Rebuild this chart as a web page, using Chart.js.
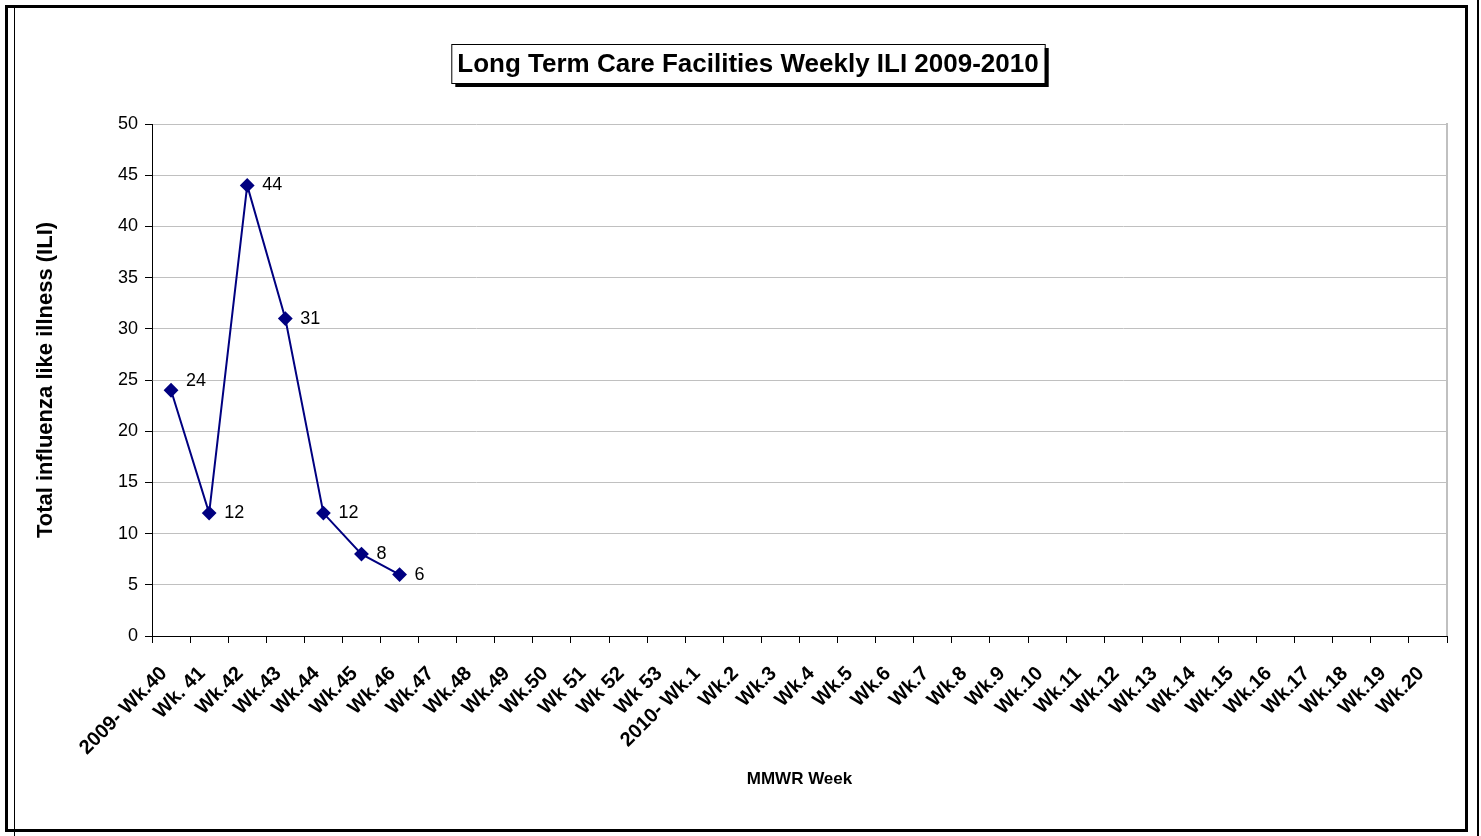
<!DOCTYPE html>
<html>
<head>
    <title>Long Term Care Facilities Weekly ILI 2009-2010</title>
    <script src="https://cdn.jsdelivr.net/npm/chart.js@4.4.1/dist/chart.umd.min.js"></script>
    <style>
        body {
            margin: 0;
            padding: 0;
            background: #ffffff;
            overflow: hidden;
        }
        #wrap {
            position: relative;
            width: 1481px;
            height: 836px;
        }
        #iliChart {
            position: absolute;
            left: 0;
            top: 0;
        }
        .frame {
            position: absolute;
            left: 5px;
            top: 5px;
            width: 1463px;
            height: 827px;
            box-sizing: border-box;
            border: 3px solid #000;
            pointer-events: none;
        }
        .rule {
            position: absolute;
            background: #000;
            pointer-events: none;
        }
    </style>
</head>
<body>
    <div id="wrap">
        <canvas id="iliChart" width="1481" height="836"></canvas>
        <div class="frame"></div>
        <div class="rule" style="left:14px;top:8px;width:1px;height:828px;"></div>
        <div class="rule" style="left:1477px;top:0;width:2px;height:836px;"></div>
    </div>

    <script>
        // Chart data
        const weeks = [
            '2009- Wk.40', 'Wk. 41', 'Wk.42', 'Wk.43', 'Wk.44', 'Wk.45', 'Wk.46', 'Wk.47',
            'Wk.48', 'Wk.49', 'Wk.50', 'Wk 51', 'Wk 52', 'Wk 53', '2010- Wk.1', 'Wk.2',
            'Wk.3', 'Wk.4', 'Wk.5', 'Wk.6', 'Wk.7', 'Wk.8', 'Wk.9', 'Wk.10', 'Wk.11',
            'Wk.12', 'Wk.13', 'Wk.14', 'Wk.15', 'Wk.16', 'Wk.17', 'Wk.18', 'Wk.19', 'Wk.20'
        ];
        const iliCases = [24, 12, 44, 31, 12, 8, 6];
        const yTicks = [0, 5, 10, 15, 20, 25, 30, 35, 40, 45, 50];

        const chartTitle = 'Long Term Care Facilities Weekly ILI 2009-2010';
        const yTitle = 'Total influenza like illness (ILI)';
        const xTitle = 'MMWR Week';

        const FONT = "'Liberation Sans', Arial, sans-serif";
        const NAVY = '#000080';

        // Boxed title with drop shadow
        const titleBoxPlugin = {
            id: 'titleBox',
            afterDraw(chart) {
                const ctx = chart.ctx;
                ctx.save();
                ctx.font = 'bold 26px ' + FONT;
                const w = ctx.measureText(chartTitle).width + 12;
                const h = 39;
                const cx = 748, top = 44;
                const left = cx - w / 2;
                ctx.fillStyle = '#000';
                ctx.fillRect(left + 4, top + 4, w, h);
                ctx.fillStyle = '#fff';
                ctx.fillRect(left, top, w, h);
                ctx.strokeStyle = '#000';
                ctx.lineWidth = 1;
                ctx.strokeRect(left + 0.5, top + 0.5, w, h);
                ctx.fillStyle = '#000';
                ctx.textAlign = 'center';
                ctx.textBaseline = 'middle';
                ctx.fillText(chartTitle, cx, top + h / 2 + 1);
                ctx.restore();
            }
        };

        // Plot area right edge + value labels
        const labelPlugin = {
            id: 'pointLabels',
            beforeDatasetsDraw(chart) {
                const ctx = chart.ctx;
                const a = chart.chartArea;
                ctx.save();
                ctx.strokeStyle = '#c0c0c0';
                ctx.lineWidth = 2;
                ctx.beginPath();
                ctx.moveTo(a.right, a.top - 1);
                ctx.lineTo(a.right, a.bottom);
                ctx.stroke();
                ctx.restore();
            },
            afterDatasetsDraw(chart) {
                const ctx = chart.ctx;
                const meta = chart.getDatasetMeta(0);
                ctx.save();
                ctx.font = '18px ' + FONT;
                ctx.fillStyle = '#000';
                ctx.textAlign = 'left';
                ctx.textBaseline = 'middle';
                meta.data.forEach((pt, i) => {
                    const v = chart.data.datasets[0].data[i];
                    if (v == null) return;
                    const dy = i === 0 ? -9 : 0;
                    ctx.fillText(String(v), pt.x + 15, pt.y + dy);
                });
                ctx.restore();
            }
        };

        const ctx = document.getElementById('iliChart').getContext('2d');
        const iliChart = new Chart(ctx, {
            type: 'line',
            data: {
                labels: weeks,
                datasets: [{
                    label: 'ILI',
                    data: iliCases,
                    borderColor: NAVY,
                    backgroundColor: NAVY,
                    borderWidth: 2,
                    pointStyle: 'rectRot',
                    pointRadius: 6,
                    pointHoverRadius: 6,
                    pointBackgroundColor: NAVY,
                    pointBorderColor: NAVY,
                    tension: 0,
                    fill: false
                }]
            },
            options: {
                responsive: false,
                animation: false,
                events: [],
                layout: {
                    padding: { top: 124, right: 34, bottom: 0, left: 0 }
                },
                plugins: {
                    legend: { display: false },
                    tooltip: { enabled: false },
                    title: { display: false }
                },
                scales: {
                    x: {
                        type: 'category',
                        offset: true,
                        afterFit(scale) { scale.height = 200; },
                        grid: {
                            offset: true,
                            drawOnChartArea: false,
                            drawTicks: true,
                            tickLength: 7,
                            tickColor: '#000',
                            color: '#000'
                        },
                        border: { color: '#000', width: 1 },
                        ticks: {
                            autoSkip: false,
                            maxRotation: 45,
                            minRotation: 45,
                            padding: 19,
                            labelOffset: -7,
                            color: '#000',
                            font: { family: FONT, size: 20, weight: 'bold' }
                        },
                        title: {
                            display: true,
                            text: xTitle,
                            color: '#000',
                            font: { family: FONT, size: 17, weight: 'bold' },
                            padding: { top: 0, bottom: 46 }
                        }
                    },
                    y: {
                        min: 0,
                        max: 50,
                        afterFit(scale) { scale.width = 152; },
                        afterBuildTicks(scale) {
                            scale.ticks = yTicks.map(v => ({ value: v }));
                        },
                        grid: {
                            color: '#c0c0c0',
                            lineWidth: 1,
                            tickLength: 7,
                            tickColor: '#000'
                        },
                        border: { color: '#000', width: 1 },
                        ticks: {
                            padding: 7,
                            color: '#000',
                            font: { family: FONT, size: 18 }
                        },
                        title: {
                            display: true,
                            text: yTitle,
                            color: '#000',
                            font: { family: FONT, size: 22, weight: 'bold' },
                            padding: { top: 33, bottom: 0 }
                        }
                    }
                }
            },
            plugins: [titleBoxPlugin, labelPlugin]
        });
    </script>
</body>
</html>
